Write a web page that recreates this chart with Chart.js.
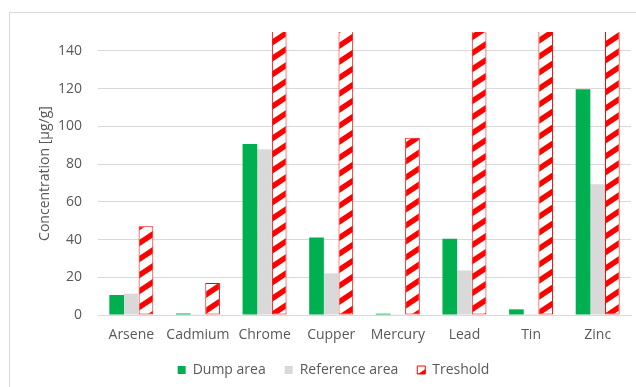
<!DOCTYPE html>
<html>
<head>
<meta charset="utf-8">
<script src="https://cdn.jsdelivr.net/npm/chart.js@4/dist/chart.umd.min.js"></script>
<style>
  html, body { margin: 0; padding: 0; background: #ffffff; }
  #wrap { position: relative; width: 636px; height: 387px; }
</style>
</head>
<body>
<div id="wrap"><canvas id="chart" width="636" height="387"></canvas></div>
<script>
// Heavy-metal concentrations per element
const categories = ['Arsene', 'Cadmium', 'Chrome', 'Cupper', 'Mercury', 'Lead', 'Tin', 'Zinc'];
const dumpArea = [10.6, 0.8, 90.6, 41.1, 0.7, 40.4, 3.0, 119.7];
const referenceArea = [11.3, 0.4, 87.9, 22.1, 0.4, 23.6, 0.5, 69.3];
const treshold = [47, 17, 380, 190, 94, 530, 900, 720];
const yMin = 0;
const yMax = 150;
const yStep = 20;
const yTitle = 'Concentration [µg/g]';

const TEXT = '#595959';
const GRID = '#D9D9D9';
const FONT = '"Open Sans", "DejaVu Sans", sans-serif';

// Red "/" hatch used for the threshold bars
function makeHatch() {
  const W = 24, H = 16;
  const c = document.createElement('canvas');
  c.width = W; c.height = H;
  const g = c.getContext('2d');
  g.fillStyle = '#ffffff';
  g.fillRect(0, 0, W, H);
  g.strokeStyle = '#FF0000';
  g.lineWidth = 5.5;
  for (const dx of [-W, 0, W]) {
    g.beginPath();
    g.moveTo(dx - W, 2 * H);
    g.lineTo(dx + 2 * W, -H);
    g.stroke();
  }
  return document.getElementById('chart').getContext('2d').createPattern(c, 'repeat');
}
const hatch = makeHatch();

// Thin outer frame around the chart
const framePlugin = {
  id: 'frame',
  beforeDraw(chart) {
    const ctx = chart.ctx;
    ctx.save();
    ctx.strokeStyle = GRID;
    ctx.lineWidth = 1;
    ctx.beginPath();
    ctx.moveTo(9.5, chart.height);
    ctx.lineTo(9.5, 12.5);
    ctx.lineTo(chart.width, 12.5);
    ctx.stroke();
    ctx.restore();
  }
};

new Chart(document.getElementById('chart'), {
  type: 'bar',
  data: {
    labels: categories,
    datasets: [
      {
        label: 'Dump area',
        data: dumpArea,
        backgroundColor: '#00B050',
        borderWidth: 0,
        categoryPercentage: 0.66,
        barPercentage: 1.0
      },
      {
        label: 'Reference area',
        data: referenceArea,
        backgroundColor: '#D9D9D9',
        borderWidth: 0,
        categoryPercentage: 0.66,
        barPercentage: 1.0
      },
      {
        label: 'Treshold',
        data: treshold,
        backgroundColor: hatch,
        borderColor: '#FF0000',
        borderWidth: 1,
        borderSkipped: false,
        categoryPercentage: 0.66,
        barPercentage: 1.0,
        clip: 0
      }
    ]
  },
  options: {
    responsive: false,
    animation: false,
    devicePixelRatio: 1,
    layout: { padding: { top: 32, right: 5, left: 36, bottom: 0 } },
    plugins: {
      legend: {
        position: 'bottom',
        align: 'center',
        labels: {
          boxWidth: 8,
          boxHeight: 8,
          padding: 19,
          color: TEXT,
          font: { family: FONT, size: 14 }
        }
      },
      tooltip: { enabled: false }
    },
    scales: {
      x: {
        grid: { display: false, drawTicks: false },
        border: { display: true, color: GRID, width: 1 },
        ticks: {
          color: TEXT,
          padding: 12,
          maxRotation: 0,
          autoSkip: false,
          font: { family: FONT, size: 14 }
        },
        afterFit(scale) { scale.height = 29; }
      },
      y: {
        min: yMin,
        max: yMax,
        grid: { color: GRID, lineWidth: 1, drawTicks: false },
        border: { display: false },
        ticks: {
          stepSize: yStep,
          color: TEXT,
          padding: 16,
          font: { family: FONT, size: 14 }
        },
        afterBuildTicks(scale) {
          scale.ticks = scale.ticks.filter(t => t.value <= yMax - yStep / 2);
        },
        title: {
          display: true,
          text: yTitle,
          color: TEXT,
          padding: { top: 1, bottom: 0 },
          font: { family: FONT, size: 14 }
        },
        afterFit(scale) { scale.width = 62; }
      }
    }
  },
  plugins: [framePlugin]
});
</script>
</body>
</html>
